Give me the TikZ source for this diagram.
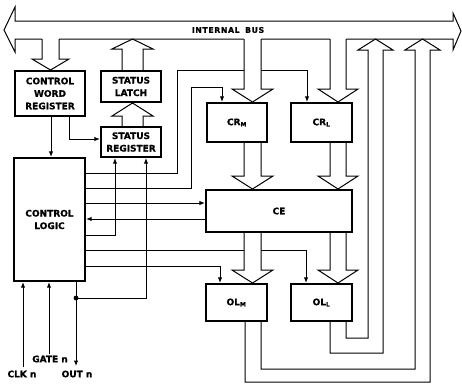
\documentclass[tikz,border=0pt]{standalone}
\usepackage{fontspec}
\newfontfamily\lbl{DejaVu Sans}[BoldFeatures={FakeBold=0.8}]
\usetikzlibrary{arrows.meta}
\newcommand\hollowdown[7]{% xl xr ytop yfilltop ybase ytip ext
  \fill[white] (#1,#4) -- (#1,#5) -- ({#1-#7},#5) -- ({(#1+#2)/2},#6) -- ({#2+#7},#5) -- (#2,#5) -- (#2,#4) -- cycle;
  \draw[hol] (#1,#3) -- (#1,#5) -- ({#1-#7},#5) -- ({(#1+#2)/2},#6) -- ({#2+#7},#5) -- (#2,#5) -- (#2,#3);}
\newcommand\hollowup[6]{% xl xr ybot ybase ytip ext
  \draw[hol] (#1,#3) -- (#1,#4) -- ({#1-#6},#4) -- ({(#1+#2)/2},#5) -- ({#2+#6},#4) -- (#2,#4) -- (#2,#3);}
\begin{document}
\begin{tikzpicture}[x=1pt,y=-1pt,
  txt/.style={font=\lbl\bfseries\fontsize{9}{12.5}\selectfont, inner sep=0pt, align=center},
  blk/.style={txt, draw, line width=2.2pt},
  ln/.style={line width=1pt},
  arr/.style={ln, -{Latex[length=5.5pt,width=4.5pt]}},
  hol/.style={line width=1pt, line join=miter},
]
\useasboundingbox (0,0) rectangle (462,384);
% bus
\draw[hol] (4,30) -- (15,7) -- (15,21) -- (453,21) -- (453,13) -- (461,31) -- (453,50) -- (453,39) -- (15,39) -- (15,52) -- cycle;
\node[txt, font=\lbl\bfseries\fontsize{7.8}{9}\selectfont] (busl) at (228,30) {I\kern.6pt N\kern.6pt T\kern.6pt E\kern.6pt R\kern.6pt N\kern.6pt A\kern.6pt L\ \ B\kern.6pt U\kern.6pt S};
% blocks
\node[blk, minimum width=70pt, minimum height=45pt] (cwr) at (50,93.5) {CONTROL\\WORD\\REGISTER};
\node[blk, minimum width=60pt, minimum height=31pt] (sl) at (131,86.5) {STATUS\\LATCH};
\node[blk, minimum width=60pt, minimum height=30pt] (sr) at (131,142) {STATUS\\REGISTER};
\node[blk, minimum width=71pt, minimum height=123pt] (cl) at (49.5,219.5) {CONTROL\\LOGIC};
\node[blk, minimum width=60pt, minimum height=39pt] (crm) at (237,122.5) {CR\textsubscript{M}};
\node[blk, minimum width=61pt, minimum height=39pt] (crl) at (321.5,122.5) {CR\textsubscript{L}};
\node[blk, minimum width=146pt, minimum height=42pt] (ce) at (279,211) {CE};
\node[blk, minimum width=61pt, minimum height=37pt] (olm) at (236.5,302.5) {OL\textsubscript{M}};
\node[blk, minimum width=61pt, minimum height=37pt] (oll) at (321.5,302.5) {OL\textsubscript{L}};
% pin labels
\node[txt] (clk) at (22,374) {CLK n};
\node[txt] (gate) at (50,359) {GATE n};
\node[txt] (outl) at (77,374) {OUT n};
\coordinate (clkend) at (23,367);
\coordinate (gateend) at (49,354);
\coordinate (outend) at (76,366);
\coordinate (dot) at (76,298);
% thin connectors
\draw[arr] (cwr.south -| 51,0) -- (cl.north -| 51,0);
\draw[arr] (cwr.south -| 69,0) |- (sr.west |- 0,139);
\draw[arr] (cl.east |- 0,173) -| (177,70) -| (crl.north -| 307,0);
\draw[arr] (cl.east |- 0,188) -| (191,87) -| (crm.north -| 222,0);
\draw[arr] (cl.east |- 0,203) -- (ce.west |- 0,203);
\draw[arr] (ce.west |- 0,219) -- (cl.east |- 0,219);
\draw[arr] (cl.east |- 0,235) -| (sr.south -| 115,0);
\draw[arr] (cl.east |- 0,250) -| (oll.north -| 306,0);
\draw[arr] (cl.east |- 0,266) -| (olm.north -| 220,0);
\draw[arr] (cl.south -| 76,0) -- (outend);
\fill (dot) circle (2.4pt);
\draw[arr] (dot) -| (sr.south -| 146,0);
\draw[arr] (gateend) -- (cl.south -| 49,0);
\draw[arr] (clkend) -- (cl.south -| 23,0);
% hollow bus arrows
\hollowdown{42}{59}{39}{37}{59}{70}{10}
\hollowup{122}{143}{70}{49}{39}{10}
\hollowup{122}{143}{126}{116}{103}{10}
\hollowdown{244}{261}{39}{37}{89}{102}{12}
\hollowdown{330}{346}{39}{37}{89}{102}{12}
\hollowdown{244}{261}{143}{144}{176}{189}{12}
\hollowdown{330}{346}{143}{144}{176}{189}{12}
\hollowdown{244}{261}{233}{234}{270}{283}{12}
\hollowdown{330}{346}{233}{234}{270}{283}{12}
% return paths to bus
\draw[hol] (oll.south -| 330,0) -- (330,353) -- (383,353) -- (383,50) -- (393,50) -- (375.5,39) -- (358,50) -- (368,50) -- (368,338) -- (346,338) -- (oll.south -| 346,0);
\draw[hol] (olm.south -| 245,0) -- (245,382) -- (430,382) -- (430,50) -- (440,50) -- (422.5,39) -- (405,50) -- (415,50) -- (415,369) -- (261,369) -- (olm.south -| 261,0);
\end{tikzpicture}
\end{document}
